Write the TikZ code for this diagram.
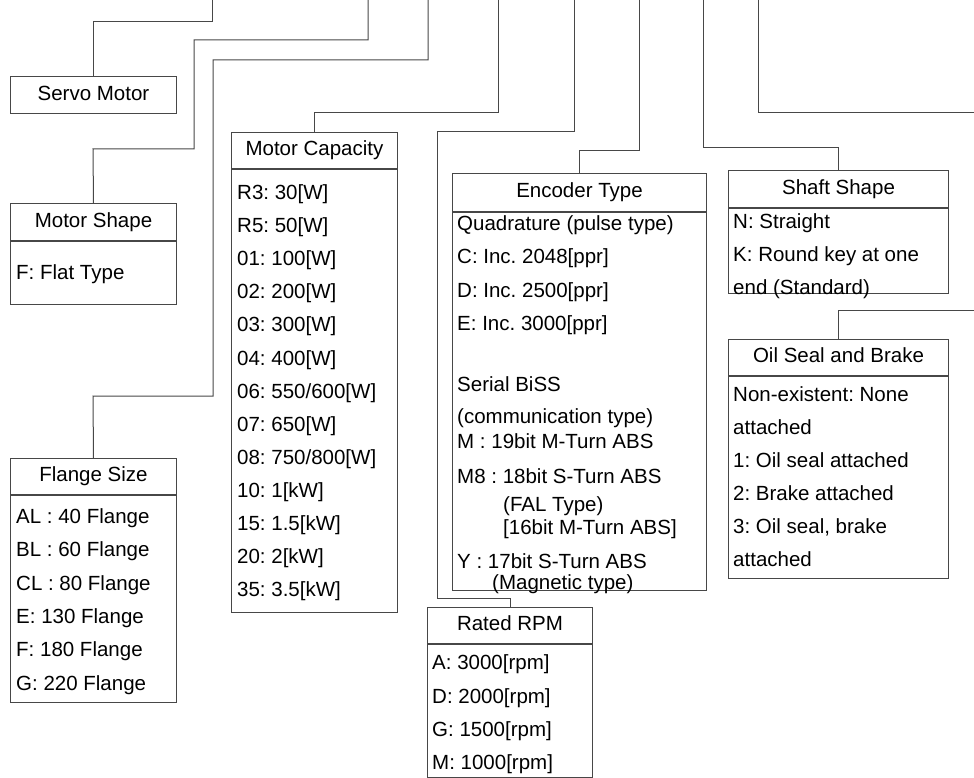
\documentclass[tikz,border=0pt]{standalone}
\usepackage{fontspec}
\setmainfont{Liberation Sans}
\frenchspacing
\begin{document}
\begin{tikzpicture}[x=1pt,y=-1pt,
  ln/.style={draw=black!72, line width=1pt},
  txt/.style={font=\fontsize{20.5}{24}\selectfont\frenchspacing, text height=14.7pt, text depth=4.3pt, inner sep=0pt},
  hdr/.style={txt, ln, anchor=north west, align=center},
  bodybox/.style={ln, anchor=north west, inner sep=0pt},
  row/.style={txt, anchor=west},
  conn/.style={ln}]
\useasboundingbox (0,0) rectangle (974,778);

% ---------- Servo Motor
\node[hdr, minimum width=166pt, minimum height=37pt] (servo) at (10,76) {Servo Motor};

% ---------- Motor Shape
\node[hdr, minimum width=166pt, minimum height=37pt] (shape) at (10,203) {Motor Shape};
\node[bodybox, minimum width=166pt, minimum height=63pt] (shapeb) at (shape.south west) {};
\node[row] (shape1) at (16,274) {F: Flat Type};

% ---------- Flange Size
\node[hdr, minimum width=166pt, minimum height=36pt] (flange) at (10,458) {Flange Size};
\node[bodybox, minimum width=166pt, minimum height=207pt] (flangeb) at (flange.south west) {};
\node[row] (fl1) at (16,518) {AL : 40 Flange};
\node[row] (fl2) at (16,551) {BL : 60 Flange};
\node[row] (fl3) at (16,585) {CL : 80 Flange};
\node[row] (fl4) at (16,618) {E: 130 Flange};
\node[row] (fl5) at (16,651) {F: 180 Flange};
\node[row] (fl6) at (16,685) {G: 220 Flange};

% ---------- Motor Capacity
\node[hdr, minimum width=166pt, minimum height=36pt] (cap) at (231,132) {Motor Capacity};
\node[bodybox, minimum width=166pt, minimum height=443pt] (capb) at (cap.south west) {};
\node[row] (cap1) at (237,194.3) {R3: 30[W]};
\node[row] (cap2) at (237,227.4) {R5: 50[W]};
\node[row] (cap3) at (237,260.5) {01: 100[W]};
\node[row] (cap4) at (237,293.6) {02: 200[W]};
\node[row] (cap5) at (237,326.7) {03: 300[W]};
\node[row] (cap6) at (237,359.8) {04: 400[W]};
\node[row] (cap7) at (237,392.9) {06: 550/600[W]};
\node[row] (cap8) at (237,426.0) {07: 650[W]};
\node[row] (cap9) at (237,459.1) {08: 750/800[W]};
\node[row] (cap10) at (237,492.2) {10: 1[kW]};
\node[row] (cap11) at (237,525.3) {15: 1.5[kW]};
\node[row] (cap12) at (237,558.4) {20: 2[kW]};
\node[row] (cap13) at (237,591.5) {35: 3.5[kW]};

% ---------- Encoder Type
\node[hdr, minimum width=254pt, minimum height=38pt] (enc) at (452,173) {Encoder Type};
\node[bodybox, minimum width=254pt, minimum height=378pt] (encb) at (enc.south west) {};
\node[row] (enc1) at (457,225) {Quadrature (pulse type)};
\node[row] (enc2) at (457,258) {C: Inc. 2048[ppr]};
\node[row] (enc3) at (457,292) {D: Inc. 2500[ppr]};
\node[row] (enc4) at (457,325) {E: Inc. 3000[ppr]};
\node[row] (enc5) at (457,386) {Serial BiSS};
\node[row] (enc6) at (457,418) {(communication type)};
\node[row] (enc7) at (457,443) {M : 19bit M-Turn ABS};
\node[row] (enc8) at (457,478) {M8 : 18bit S-Turn ABS};
\node[row] (enc9) at (503,506) {(FAL Type)};
\node[row] (enc10) at (503,529) {{[16bit M-Turn ABS]}};
\node[row] (enc11) at (457,563) {Y : 17bit S-Turn ABS};
\node[row] (enc12) at (492,584) {(Magnetic type)};

% ---------- Rated RPM
\node[hdr, minimum width=165pt, minimum height=36pt] (rpm) at (427,607) {Rated RPM};
\node[bodybox, minimum width=165pt, minimum height=133pt] (rpmb) at (rpm.south west) {};
\node[row] (rpm1) at (432,664) {A: 3000[rpm]};
\node[row] (rpm2) at (432,698) {D: 2000[rpm]};
\node[row] (rpm3) at (432,731) {G: 1500[rpm]};
\node[row] (rpm4) at (432,764) {M: 1000[rpm]};

% ---------- Shaft Shape
\node[hdr, minimum width=220pt, minimum height=37pt] (shaft) at (728,170) {Shaft Shape};
\node[bodybox, minimum width=220pt, minimum height=85pt] (shaftb) at (shaft.south west) {};
\node[row] (sh1) at (733,223) {N: Straight};
\node[row] (sh2) at (733,256) {K: Round key at one};
\node[row] (sh3) at (733,289) {end (Standard)};

% ---------- Oil Seal and Brake
\node[hdr, minimum width=220pt, minimum height=36pt] (oil) at (728,339) {Oil Seal and Brake};
\node[bodybox, minimum width=220pt, minimum height=202pt] (oilb) at (oil.south west) {};
\node[row] (oil1) at (733,396) {Non-existent: None};
\node[row] (oil2) at (733,429) {attached};
\node[row] (oil3) at (733,462) {1: Oil seal attached};
\node[row] (oil4) at (733,495) {2: Brake attached};
\node[row] (oil5) at (733,528) {3: Oil seal, brake};
\node[row] (oil6) at (733,561) {attached};

% ---------- connector ends
\coordinate (t1) at (212,0);
\coordinate (t2) at (368,0);
\coordinate (t3) at (428,0);
\coordinate (t4) at (498,0);
\coordinate (t5) at (574,0);
\coordinate (t6) at (639,0);
\coordinate (t7) at (703,0);
\coordinate (t8) at (758,0);
\coordinate (r8) at (974,113);
\coordinate (r9) at (974,310);

% ---------- connectors
\draw[conn] (t1) -- ++(0,22) -| (servo.north);
\draw[conn] (t2) |- (194,40) |- (93,149) -- (shape.north);
\draw[conn] (t3) |- (213,60) |- (93,396) -- (flange.north);
\draw[conn] (t4) -- ++(0,113) -| (cap.north);
\draw[conn] (t5) |- (437,132) -- (437,598) -| (rpm.north);
\draw[conn] (t6) -- ++(0,151) -| (enc.north);
\draw[conn] (t7) -- ++(0,148) -| (shaft.north);
\draw[conn] (t8) |- (r8);
\draw[conn] (r9) -| (oil.north);
\end{tikzpicture}
\end{document}
